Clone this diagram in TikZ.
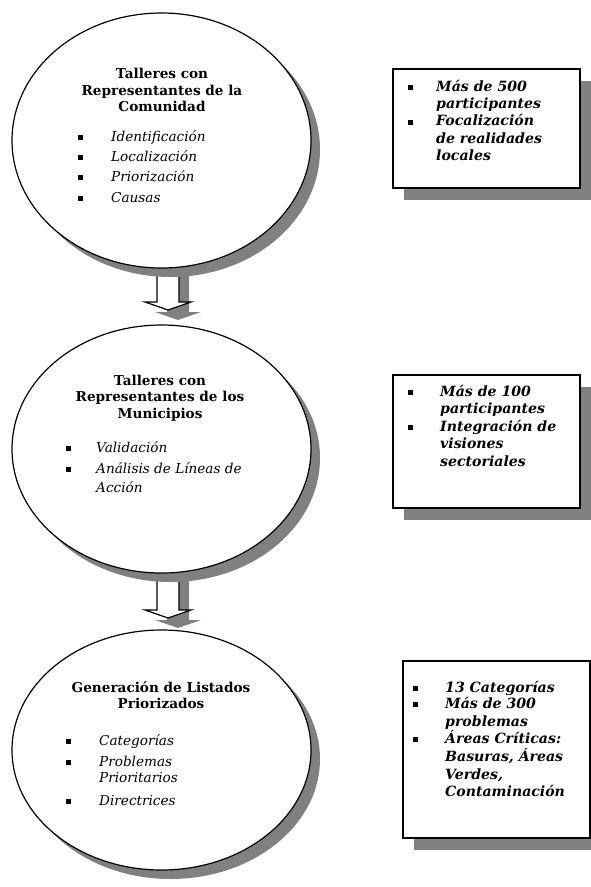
\documentclass[tikz,border=0pt]{standalone}
\usepackage{fontspec}
\setmainfont{DejaVu Serif}
\usetikzlibrary{shapes.geometric,shadows}
\definecolor{shadowgray}{HTML}{808080}
\newcommand{\bul}{\rule[1pt]{5pt}{5pt}}
\newcommand{\bgap}[1]{\llap{\bul\hspace{#1}}}
\tikzset{
 oval/.style={ellipse, draw, line width=1.2pt, fill=white, inner sep=0pt,
   general shadow={fill=shadowgray, shadow xshift=9pt, shadow yshift=-9pt}},
 infobox/.style={rectangle, draw, line width=1.8pt, fill=white, inner sep=0pt,
   general shadow={fill=shadowgray, shadow xshift=11pt, shadow yshift=-12pt}},
 ttl/.style={anchor=base, font=\bfseries\fontsize{13.6}{16}\selectfont, inner sep=0pt},
 itm/.style={anchor=base west, font=\itshape\fontsize{13.6}{16}\selectfont, inner sep=0pt},
 btx/.style={anchor=base west, font=\bfseries\itshape\fontsize{14.1}{17}\selectfont, inner sep=0pt},
 arrowbody/.style={draw, line width=1.2pt, fill=white, line join=miter},
 arrowshadow/.style={fill=shadowgray},
}
\begin{document}
\begin{tikzpicture}[x=1pt,y=-1pt]
\useasboundingbox (0,0) rectangle (591,887);
% arrow anchors
\coordinate (a1) at (168,262);
\coordinate (a2) at (168,570);
\foreach \a/\h in {a1/40,a2/40}{
  \begin{scope}[shift={(\a)}]
    \fill[arrowshadow] (-1,10) -- (-1,\h+10) -- (-13,\h+10) -- (10,\h+18) -- (33,\h+10) -- (21,\h+10) -- (21,10) -- cycle;
    \draw[arrowbody] (-11,0) -- (-11,\h) -- (-23,\h) -- (0,\h+8) -- (23,\h) -- (11,\h) -- (11,0) -- cycle;
  \end{scope}
}
% ellipses
\node[oval, minimum width=299pt, minimum height=255pt] (e1) at (161.5,140.5) {};
\node[oval, minimum width=299pt, minimum height=248pt] (e2) at (161.5,449) {};
\node[oval, minimum width=299pt, minimum height=240pt] (e3) at (161.5,750) {};
% boxes
\node[infobox, minimum width=187pt, minimum height=119pt] (b1) at (486.5,128.5) {};
\node[infobox, minimum width=187pt, minimum height=133pt] (b2) at (486.5,441.5) {};
\node[infobox, minimum width=187pt, minimum height=177pt] (b3) at (496.5,749.5) {};
% ellipse 1 text
\node[ttl] (e1t1) at (162,78) {Talleres con};
\node[ttl] (e1t2) at (162,95) {Representantes de la};
\node[ttl] (e1t3) at (162,111) {Comunidad};
\node[itm] (e1i1) at (111,141) {\bgap{28pt}Identificación};
\node[itm] (e1i2) at (111,161) {\bgap{28pt}Localización};
\node[itm] (e1i3) at (111,181) {\bgap{28pt}Priorización};
\node[itm] (e1i4) at (111,202) {\bgap{28pt}Causas};
% ellipse 2 text
\node[ttl] (e2t1) at (160,385) {Talleres con};
\node[ttl] (e2t2) at (160,401) {Representantes de los};
\node[ttl] (e2t3) at (160,418) {Municipios};
\node[itm] (e2i1) at (96,452) {\bgap{25.5pt}Validación};
\node[itm] (e2i2) at (96,473) {\bgap{25.5pt}Análisis de Líneas de};
\node[itm] (e2i3) at (96,492) {Acción};
% ellipse 3 text
\node[ttl] (e3t1) at (161,692) {Generación de Listados};
\node[ttl] (e3t2) at (161,708) {Priorizados};
\node[itm] (e3i1) at (99,745) {\bgap{28.5pt}Categorías};
\node[itm] (e3i2) at (99,766) {\bgap{28.5pt}Problemas};
\node[itm] (e3i3) at (99,782) {Prioritarios};
\node[itm] (e3i4) at (99,805) {\bgap{28.5pt}Directrices};
% box 1 text
\node[btx] (b1l1) at (436,91) {\bgap{23.5pt}Más de 500};
\node[btx] (b1l2) at (436,108) {participantes};
\node[btx] (b1l3) at (436,125.5) {\bgap{23.5pt}Focalización};
\node[btx] (b1l4) at (436,143) {de realidades};
\node[btx] (b1l5) at (436,160) {locales};
% box 2 text
\node[btx] (b2l1) at (440,396) {\bgap{27.5pt}Más de 100};
\node[btx] (b2l2) at (440,413.5) {participantes};
\node[btx] (b2l3) at (440,431) {\bgap{27.5pt}Integración de};
\node[btx] (b2l4) at (440,448.5) {visiones};
\node[btx] (b2l5) at (440,466) {sectoriales};
% box 3 text
\node[btx] (b3l1) at (445,692) {\bgap{27.5pt}13 Categorías};
\node[btx] (b3l2) at (445,708) {\bgap{27.5pt}Más de 300};
\node[btx] (b3l3) at (445,726) {problemas};
\node[btx] (b3l4) at (445,743) {\bgap{27.5pt}Áreas Críticas:};
\node[btx] (b3l5) at (445,761) {Basuras, Áreas};
\node[btx] (b3l6) at (445,779) {Verdes,};
\node[btx] (b3l7) at (445,796) {Contaminación};
\end{tikzpicture}
\end{document}
